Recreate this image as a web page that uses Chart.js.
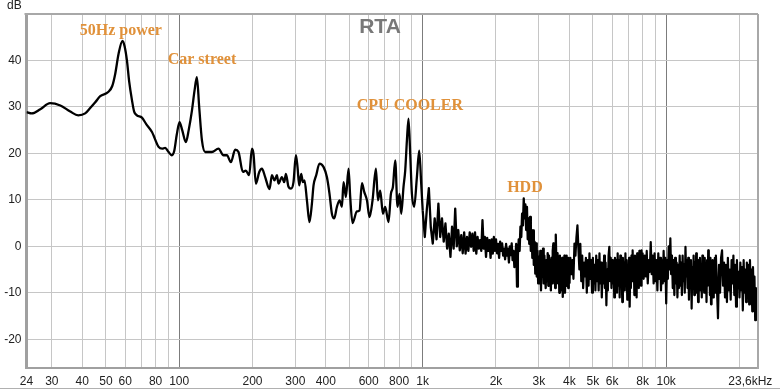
<!DOCTYPE html>
<html>
<head>
<meta charset="utf-8">
<title>RTA</title>
<script src="https://cdn.jsdelivr.net/npm/chart.js@4.4.1/dist/chart.umd.min.js"></script>
<style>
  body { margin: 0; background: #fff; }
  canvas { display: block; }
</style>
</head>
<body>
<canvas id="canvas" width="780" height="390"></canvas>
<script>
// smooth part of the spectrum, Hz / dB
const lowFreqs = [
  23.6, 24.8, 26.9, 29.5, 32.5, 35.7, 38.5, 41.1, 43, 45.2,
  47.4, 51.1, 53.1, 54.6, 56.4, 58.5, 59.7, 61, 62.3, 64,
  65.3, 67, 70.3, 73.2, 77.3, 82.3, 85.2, 87.6, 90.1, 93.3,
  95.4, 97.7, 100.3, 102.9, 106.5, 109.4, 112.8, 115.6, 118.2, 120.8,
  124, 127.9, 136.2, 145, 152, 157, 163, 169.8, 175.2, 182.6,
  187.8, 193.8, 198.9, 201.9, 206.5, 213.2, 218.6, 225.5, 234.9, 240.3,
  246.3, 252, 255.7, 264.1, 269.9, 274.3, 281.1, 287.6, 294.7, 301.5,
  306.1, 311.1, 317, 322.1, 327, 334.6, 342.8, 350.8, 356.2, 365.3,
  376.9, 391.4, 404.2, 414.3, 423.8, 433.2, 444.4, 455.5, 465.9, 473,
  483.8, 495.9, 503.9, 514.9, 536.8, 550.3, 562.9, 575.3, 590.2, 604.9,
  622.3, 642.6, 654.9, 669.2, 686.5, 701.5, 723.8, 740.4, 754.6, 771.1,
  788.1, 803.2, 816.2, 834.1, 847.6, 861.4, 874.4, 888.6, 903, 922.8,
  946.6, 967.6, 986, 1000
]
const lowLevels = [
  28.9, 28.6, 29.5, 30.8, 30.3, 29.0, 28.2, 28.6, 29.7, 31.0,
  32.3, 33.2, 34.5, 37.1, 41.5, 44.2, 43.0, 40.0, 35.5, 31.4,
  29.0, 28.2, 27.7, 26.3, 24.6, 21.4, 21.0, 21.2, 20.4, 19.6,
  20.5, 24.0, 26.7, 25.0, 22.4, 25.0, 29.2, 33.5, 36.4, 30.0,
  22.8, 20.3, 20.3, 21.0, 19.6, 19.6, 18.1, 20.8, 20.3, 16.0,
  16.3, 15.3, 21.0, 19.9, 13.5, 16.0, 16.7, 14.9, 12.3, 15.3,
  14.2, 15.3, 13.5, 14.9, 13.8, 15.6, 12.8, 12.4, 13.8, 19.6,
  17.1, 13.1, 15.6, 13.8, 14.2, 9.9, 5.2, 9.2, 13.1, 15.3,
  17.8, 17.1, 14.9, 11.3, 7.0, 6.0, 8.5, 9.9, 8.5, 13.8,
  10.6, 16.7, 10.6, 5.0, 7.5, 7.7, 13.6, 11.7, 9.9, 6.3,
  9.9, 16.7, 9.9, 12.0, 7.0, 8.5, 5.2, 11.3, 12.8, 18.5,
  8.5, 11.3, 7.0, 12.8, 16.3, 22.8, 27.5, 19.9, 11.3, 8.5,
  14.9, 20.6, 13.5, 7.7
]

// 1 kHz - 4 kHz
const midFreqs = [
  1000, 1020, 1040, 1060, 1080, 1100, 1120, 1140, 1160, 1180,
  1200, 1220, 1240, 1260, 1280, 1300, 1320, 1340, 1360, 1380,
  1400, 1420, 1440, 1460, 1480, 1500, 1520, 1540, 1560, 1580,
  1600, 1620, 1640, 1660, 1680, 1700, 1720, 1740, 1760, 1780,
  1800, 1820, 1840, 1860, 1880, 1900, 1920, 1940, 1960, 1980,
  2000, 2020, 2040, 2060, 2080, 2100, 2120, 2140, 2160, 2180,
  2200, 2220, 2240, 2260, 2280, 2300, 2320, 2340, 2360, 2380,
  2400, 2420, 2440, 2460, 2480, 2500, 2520, 2540, 2560, 2580,
  2600, 2620, 2640, 2660, 2680, 2700, 2720, 2740, 2760, 2780,
  2800, 2820, 2840, 2860, 2880, 2900, 2920, 2940, 2960, 2980,
  3000, 3020, 3040, 3060, 3080, 3100, 3120, 3140, 3160, 3180,
  3200, 3220, 3240, 3260, 3280, 3300, 3320, 3340, 3360, 3380,
  3400, 3420, 3440, 3460, 3480, 3500, 3520, 3540, 3560, 3580,
  3600, 3620, 3640, 3660, 3680, 3700, 3720, 3740, 3760, 3780,
  3800, 3820, 3840, 3860, 3880, 3900, 3920, 3940, 3960, 3980,
  4000
]
const midLevels = [
  7.7, 2.0, 8.0, 12.5, 4.0, 0.6, 6.0, 1.5, 9.2, 2.0,
  6.0, 1.0, 4.9, -0.5, 2.7, -2.3, 4.2, -0.5, 8.1, 0.0,
  3.5, -0.9, 2.4, -1.5, 3.0, -1.6, 2.0, -1.0, 3.0, -0.1,
  2.7, -1.0, 3.0, -1.6, 2.0, -0.5, 1.3, -1.0, 5.6, -0.5,
  2.0, -2.3, 1.8, -1.0, 1.3, -2.5, 1.5, -1.6, 2.0, -1.0,
  1.5, -1.5, 0.5, -2.5, 1.0, -1.0, 0.6, -2.0, -0.5, -2.8,
  0.5, -2.0, -0.5, -3.5, 0.0, -1.9, 0.6, -3.0, -1.0, -4.5,
  -3.0, 0.5, -8.7, -2.0, 1.5, -1.0, 4.2, 2.0, 7.0, 4.5,
  10.3, 6.0, 9.0, 3.5, 8.5, 1.5, 6.0, 0.5, 6.3, -1.0,
  3.5, -2.5, 3.4, -4.0, 1.0, -5.9, 0.6, -6.5, -1.0, -8.0,
  -2.3, -7.0, -1.0, -9.5, -2.5, -6.5, -0.5, -8.0, -2.0, -6.0,
  -9.0, -3.0, -7.5, -1.5, -8.5, -2.0, -6.0, -3.0, -9.5, -2.5,
  -8.0, -1.0, 0.6, -7.0, -2.0, -9.0, 2.5, -4.0, -8.0, -1.5,
  -6.5, -3.0, -10.0, -2.0, -7.0, -3.0, -9.5, -2.5, -10.9, -4.0,
  -8.0, -2.0, -10.0, -3.5, -8.5, -2.0, -6.5, -3.0, -9.0, -2.5,
  -8.0
]

// 4 kHz - 23.6 kHz
const topFreqs = [
  4000, 4040, 4080, 4120, 4160, 4200, 4240, 4280, 4320, 4360,
  4400, 4440, 4480, 4520, 4560, 4600, 4640, 4680, 4720, 4760,
  4800, 4840, 4880, 4920, 4960, 5000, 5040, 5080, 5120, 5160,
  5200, 5240, 5280, 5320, 5360, 5400, 5440, 5480, 5520, 5560,
  5600, 5640, 5680, 5720, 5760, 5800, 5840, 5880, 5920, 5960,
  6000, 6040, 6080, 6120, 6160, 6200, 6240, 6280, 6320, 6360,
  6400, 6440, 6480, 6520, 6560, 6600, 6640, 6680, 6720, 6760,
  6800, 6840, 6880, 6920, 6960, 7000, 7040, 7080, 7120, 7160,
  7200, 7240, 7280, 7320, 7360, 7400, 7440, 7480, 7520, 7560,
  7600, 7640, 7680, 7720, 7760, 7800, 7840, 7880, 7920, 7960,
  8000, 8080, 8160, 8240, 8320, 8400, 8480, 8560, 8640, 8720,
  8800, 8880, 8960, 9040, 9120, 9200, 9280, 9360, 9440, 9520,
  9600, 9680, 9760, 9840, 9920, 10000, 10080, 10160, 10240, 10320,
  10400, 10480, 10560, 10640, 10720, 10800, 10880, 10960, 11040, 11120,
  11200, 11280, 11360, 11440, 11520, 11600, 11680, 11760, 11840, 11920,
  12000, 12080, 12160, 12240, 12320, 12400, 12480, 12560, 12640, 12720,
  12800, 12880, 12960, 13040, 13120, 13200, 13280, 13360, 13440, 13520,
  13600, 13680, 13760, 13840, 13920, 14000, 14080, 14160, 14240, 14320,
  14400, 14480, 14560, 14640, 14720, 14800, 14880, 14960, 15040, 15120,
  15200, 15280, 15360, 15440, 15520, 15600, 15680, 15760, 15840, 15920,
  16000, 16160, 16320, 16480, 16640, 16800, 16960, 17120, 17280, 17440,
  17600, 17760, 17920, 18080, 18240, 18400, 18560, 18720, 18880, 19040,
  19200, 19360, 19520, 19680, 19840, 20000, 20160, 20320, 20480, 20640,
  20800, 20960, 21120, 21280, 21440, 21600, 21760, 21920, 22080, 22240,
  22400, 22560, 22720, 22880, 23040, 23200, 23360, 23600
]
const topLevels = [
  -8.0, -2.5, -6.0, -3.0, -7.0, 0.6, -2.0, 2.0, 4.5, -0.5,
  -5.0, 0.5, -7.5, -2.0, -9.0, -3.5, -6.5, -2.5, -10.0, -3.0,
  -8.5, -1.5, -7.0, -3.0, -10.0, -2.5, -8.0, -4.0, -9.5, -2.0,
  -7.5, -3.0, -9.5, -1.5, -8.0, -3.5, -11.0, -4.0, -8.0, -2.0,
  -9.0, -3.5, -12.7, -5.0, -9.5, -2.0, -0.1, -7.5, -2.5, -9.0,
  -3.0, -8.0, -4.0, -11.0, -2.5, -7.5, -3.0, -10.0, -1.5, -8.5,
  -3.0, -11.0, -2.0, -7.0, -4.0, -12.0, -2.5, -8.0, -3.5, -9.5,
  -1.5, -8.0, -3.0, -11.5, -4.0, -7.5, -2.5, -13.0, -4.0, -9.0,
  -2.0, -7.5, -0.9, -6.0, -3.0, -10.5, -2.0, -8.0, -3.5, -11.0,
  -1.5, -7.0, -2.5, -9.0, -1.0, -6.5, -2.0, -8.5, -0.9, -6.0,
  -1.5, -7.0, -2.0, -6.5, -1.0, -8.0, -3.0, -5.5, 0.9, -6.0,
  -2.0, -8.0, -1.5, -7.5, -3.0, -9.5, -1.5, -7.0, -2.5, -9.5,
  -3.0, -8.0, -1.0, -7.5, -2.5, -12.3, -3.0, -7.0, 0.0, -5.0,
  1.7, -6.0, -2.0, -9.0, -3.0, -10.5, -2.5, -8.0, -3.5, -11.0,
  -4.0, -9.0, -2.0, -8.5, -3.5, -10.5, -2.0, -7.5, -4.0, -10.0,
  -0.1, -6.5, -3.0, -9.0, -2.5, -11.5, -4.0, -8.5, -3.0, -13.4,
  -4.5, -9.0, -2.0, -10.5, -3.5, -8.0, -1.5, -10.0, -4.0, -12.0,
  -3.0, -8.5, -2.5, -9.5, -4.0, -11.0, -2.0, -8.0, -3.5, -10.0,
  -2.5, -9.5, -4.0, -12.0, -3.0, -8.5, -0.9, -7.5, -3.5, -10.5,
  -2.5, -12.5, -5.0, -9.0, -3.0, -11.0, -4.0, -8.0, -2.5, -10.0,
  -2.0, -9.0, -15.5, -4.0, -10.0, -2.5, -0.9, -8.5, -3.5, -11.0,
  -4.0, -12.0, -2.5, -9.5, -5.0, -11.5, -3.0, -8.0, -2.0, -10.5,
  -4.0, -13.0, -3.0, -9.0, -5.5, -11.0, -3.5, -9.5, -4.5, -13.8,
  -3.0, -10.0, -5.0, -12.0, -3.5, -9.0, -4.0, -12.5, -3.0, -10.0,
  -5.0, -14.0, -4.5, -11.0, -6.5, -15.9, -9.0, -16.0
]

// axis ticks (gridlines) and the labels shown under them
const xTickValues = [23.6, 30, 40, 50, 60, 70, 80, 90, 100, 200, 300, 400, 500, 600, 700, 800, 900,
  1000, 2000, 3000, 4000, 5000, 6000, 7000, 8000, 9000, 10000, 20000, 23600]
const xTickLabels = ['24', '30', '40', '50', '60', '', '80', '', '100', '200', '300', '400', '', '600', '', '800', '',
  '1k', '2k', '3k', '4k', '5k', '6k', '', '8k', '', '10k', '', '23,6kHz    ']
const yTickValues = [-20, -10, 0, 10, 20, 30, 40]

// text notes placed at a frequency / level
const noteTexts = ['50Hz power', 'Car street', 'CPU COOLER', 'HDD']
const noteFreqs = [57.6, 124, 886, 2630]
const noteLevels = [45.4, 39.2, 29.3, 11.6]

const darkLines = [100, 1000, 10000]

const framePlugin = {
  id: 'frame',
  afterDraw(chart) {
    const c = chart.ctx
    const a = chart.chartArea
    const xs = chart.scales.x
    const ys = chart.scales.y
    c.save()
    // top and right edge of the plot box
    c.strokeStyle = '#a8a8a8'
    c.lineWidth = 2
    c.beginPath()
    c.moveTo(a.left - 2, a.top)
    c.lineTo(a.right + 1, a.top)
    c.moveTo(a.right + 1, a.top)
    c.lineTo(a.right + 1, a.bottom + 1)
    c.stroke()
    // thin line at the bottom of the window
    c.strokeStyle = '#b0b0b0'
    c.lineWidth = 1
    c.beginPath()
    c.moveTo(0, 388.5)
    c.lineTo(780, 388.5)
    c.stroke()

    c.fillStyle = '#222'
    c.font = '12px "Liberation Sans", Arial, sans-serif'
    c.textAlign = 'left'
    c.textBaseline = 'alphabetic'
    c.fillText('dB', 7, 9)

    c.fillStyle = '#787878'
    c.font = 'bold 21px "Liberation Sans", Arial, sans-serif'
    c.textAlign = 'center'
    c.fillText('RTA', 380, 33)

    c.fillStyle = '#e0913a'
    c.font = 'bold 16px "Liberation Serif", "Times New Roman", serif'
    noteTexts.forEach((t, i) => {
      c.fillText(t, xs.getPixelForValue(noteFreqs[i]), ys.getPixelForValue(noteLevels[i]))
    })
    c.restore()
  }
}

const toPoints = (freqs, levels) => freqs.map((f, i) => ({ x: f, y: levels[i] }))

Chart.defaults.font.family = '"Liberation Sans", Arial, sans-serif'
Chart.defaults.font.size = 12
Chart.defaults.color = '#222'

const target = document.querySelector('#canvas')
const rtaChart = new Chart(target, {
  type: 'line',
  data: {
    datasets: [{
      data: toPoints(lowFreqs, lowLevels),
      borderColor: '#000',
      borderWidth: 2.3,
      pointRadius: 0,
      cubicInterpolationMode: 'monotone',
      borderJoinStyle: 'round'
    }, {
      data: toPoints(midFreqs, midLevels),
      borderColor: '#000',
      borderWidth: 2.3,
      pointRadius: 0,
      tension: 0,
      borderJoinStyle: 'round'
    }, {
      data: toPoints(topFreqs, topLevels),
      borderColor: '#000',
      borderWidth: 2.2,
      pointRadius: 0,
      tension: 0,
      borderJoinStyle: 'round'
    }]
  },
  options: {
    responsive: false,
    animation: false,
    events: [],
    layout: { padding: { top: 14, right: 23, left: 0, bottom: 0 } },
    plugins: { legend: { display: false }, tooltip: { enabled: false } },
    scales: {
      x: {
        type: 'logarithmic',
        min: 23.6,
        max: 23600,
        afterBuildTicks: scale => { scale.ticks = xTickValues.map(v => ({ value: v })) },
        afterFit: scale => {
          scale.height = 22
          scale.paddingLeft = 0
          scale.paddingRight = 0
        },
        ticks: {
          autoSkip: false,
          maxRotation: 0,
          padding: 6,
          color: '#222',
          callback: (value, i) => xTickLabels[i]
        },
        grid: {
          drawTicks: false,
          color: c => darkLines.includes(c.tick && c.tick.value) ? '#7c7c7c' : '#c6c6c6'
        },
        border: { color: '#a0a0a0', width: 2 }
      },
      y: {
        min: -26.2,
        max: 50,
        afterBuildTicks: scale => { scale.ticks = yTickValues.map(v => ({ value: v })) },
        afterFit: scale => {
          scale.width = 26.5
          scale.paddingTop = 0
          scale.paddingBottom = 0
        },
        ticks: { padding: 5, color: '#222' },
        grid: { drawTicks: false, color: '#c6c6c6' },
        border: { color: '#a0a0a0', width: 3 }
      }
    }
  },
  plugins: [framePlugin]
})
</script>
</body>
</html>
